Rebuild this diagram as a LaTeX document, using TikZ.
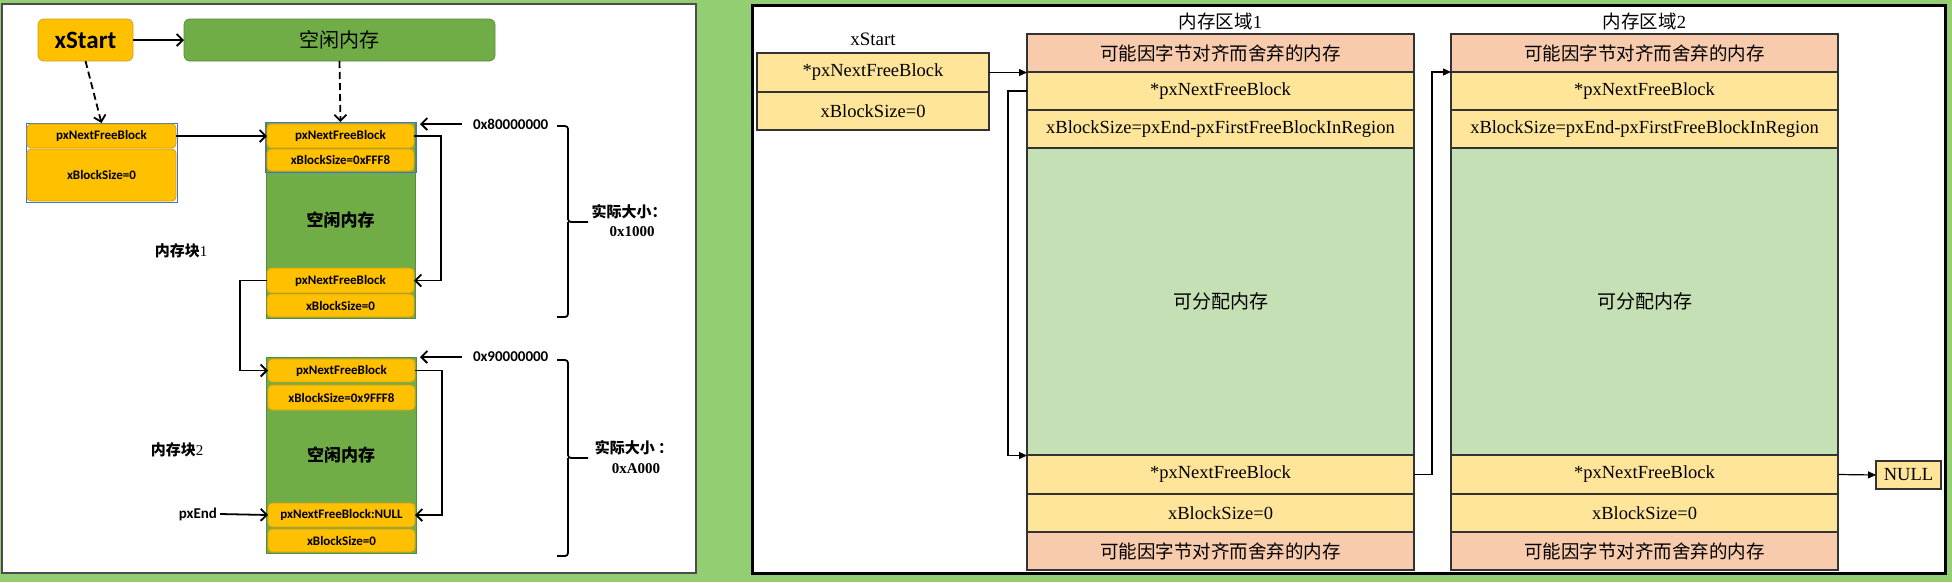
\documentclass[tikz,border=0pt]{standalone}
\usepackage{fontspec}
\setmainfont{Liberation Serif}
\newfontfamily\calfont{Carlito}
\newfontfamily\cjk{Noto Sans CJK SC}
\usetikzlibrary{arrows.meta}
\definecolor{bggreen}{RGB}{148,206,114}
\definecolor{orng}{RGB}{255,192,0}
\definecolor{orngd}{RGB}{214,160,20}
\definecolor{grn}{RGB}{112,173,71}
\definecolor{grnd}{RGB}{88,140,60}
\definecolor{blu}{RGB}{68,114,196}
\definecolor{pinkc}{RGB}{248,203,173}
\definecolor{lyel}{RGB}{255,229,153}
\definecolor{lgrn}{RGB}{197,224,180}
\tikzset{
  lcell/.style={draw=orngd, fill=orng, rounded corners=4pt, line width=0.8pt, inner sep=0pt, outer sep=0pt,
    font=\calfont\bfseries\fontsize{13}{13}\selectfont},
  lcol/.style={draw=grnd, fill=grn, line width=0.8pt, inner sep=0pt, outer sep=0pt,
    font=\cjk\bfseries\fontsize{17}{17}\selectfont},
  rcell/.style={draw=black!80, fill=lyel, line width=1.8pt, inner sep=0pt, outer sep=0pt,
    minimum width=387pt, minimum height=38pt, font=\fontsize{18.5}{18.5}\selectfont},
  lbl/.style={inner sep=0pt, outer sep=0pt},
  barb/.style={-{Straight Barb[length=6pt,width=12pt]}, line width=1.8pt},
  dbarb/.style={barb, dash pattern=on 7pt off 4pt},
  tri/.style={-{Triangle[length=8pt,width=7pt]}, line width=1.2pt},
  bracec/.style={line width=1.8pt, rounded corners=3pt},
}
\begin{document}
\begin{tikzpicture}[x=1pt,y=-1pt]
% background
\fill[bggreen] (0,0) rectangle (1952,582);
\useasboundingbox (0,0) rectangle (1952,582);
% ================= LEFT PANEL =================
\draw[fill=white, draw=black!70, line width=2pt] (2,4) rectangle (696,573);

\node[lcell, rounded corners=6pt, minimum width=95pt, minimum height=42pt,
  font=\calfont\bfseries\fontsize{25}{25}\selectfont] (xs) at (85.5,40) {xStart};
\node[lcol, rounded corners=6pt, minimum width=311pt, minimum height=42pt,
  font=\cjk\fontsize{20}{20}\selectfont] (free) at (339.5,40) {空闲内存};
\draw[barb] (xs.east) -- (free.west);

% struct
\node[draw=blu, line width=1pt, minimum width=151pt, minimum height=79pt, inner sep=0pt, outer sep=0pt] (s) at (101.5,162.5) {};
\node[lcell, minimum width=149pt, minimum height=24pt] (s1) at (101.5,136) {pxNextFreeBlock};
\node[lcell, minimum width=149pt, minimum height=52pt] (s2) at (101.5,175) {xBlockSize=0};
\draw[dbarb] (xs.south) -- (s.north);

% block 1
\node[lcol, minimum width=149pt, minimum height=196pt] (b1) at (340.5,220) {空闲内存};
\draw[blu, line width=1pt] (265,122) rectangle (416,172);
\node[lcell, minimum width=147pt, minimum height=24pt] (b1a) at (340.5,136) {pxNextFreeBlock};
\node[lcell, minimum width=147pt, minimum height=22pt] (b1b) at (340.5,160) {xBlockSize=0xFFF8};
\node[lcell, minimum width=147pt, minimum height=25pt] (b1c) at (340.5,280.5) {pxNextFreeBlock};
\node[lcell, minimum width=147pt, minimum height=23pt] (b1d) at (340.5,305.5) {xBlockSize=0};
\draw[dbarb] (free.south) -- (b1.north);
\draw[barb] (s1.east) -- (b1a.west);
\draw[barb] (b1a.east) -- ++(27,0) |- (b1c.east);

% block 2
\node[lcol, minimum width=150pt, minimum height=196pt] (b2) at (341,455) {空闲内存};
\node[lcell, minimum width=147pt, minimum height=23pt] (b2a) at (341.5,370.5) {pxNextFreeBlock};
\node[lcell, minimum width=147pt, minimum height=25pt] (b2b) at (341.5,397.5) {xBlockSize=0x9FFF8};
\node[lcell, minimum width=147pt, minimum height=24pt] (b2c) at (341.5,515) {pxNextFreeBlock:NULL};
\node[lcell, minimum width=147pt, minimum height=23pt] (b2d) at (341.5,540.5) {xBlockSize=0};
\draw[barb] (b1c.west) -- ++(-27,0) |- (b2a.west);
\draw[barb] (b2a.east) -- ++(27,0) |- (b2c.east);

% addresses and braces
\node[lbl, anchor=west, font=\calfont\bfseries\fontsize{15}{15}\selectfont] (h1) at (473,124) {0x80000000};
\coordinate (h1t) at (420,124);
\draw[barb] (h1.west) ++(-11,0) -- (h1t);
\node[lbl, anchor=west, font=\calfont\bfseries\fontsize{15}{15}\selectfont] (h2) at (473,357) {0x90000000};
\coordinate (h2t) at (420,357);
\draw[barb] (h2.west) ++(-11,0) -- (h2t);
\draw[bracec] (557,126) -| (568,222) -- (588,222);
\draw[bracec] (568,222) |- (557,317);
\draw[bracec] (557,360) -| (568,458) -- (588,458);
\draw[bracec] (568,458) |- (557,556);

\node[lbl, font=\cjk\bfseries\fontsize{15}{15}\selectfont] (sz1) at (629,212) {实际大小：};
\node[lbl, font=\bfseries\fontsize{15}{15}\selectfont] (v1) at (632,232) {0x1000};
\node[lbl, font=\cjk\bfseries\fontsize{15}{15}\selectfont] (sz2) at (634,448) {实际大小 ：};
\node[lbl, font=\bfseries\fontsize{15}{15}\selectfont] (v2) at (636,469) {0xA000};
\node[lbl, font=\fontsize{15}{15}\selectfont] (m1) at (181,251) {{\cjk\bfseries 内存块}1};
\node[lbl, font=\fontsize{15}{15}\selectfont] (m2) at (177,450) {{\cjk\bfseries 内存块}2};
\node[lbl, anchor=east, font=\calfont\bfseries\fontsize{15}{15}\selectfont] (pe) at (217,514) {pxEnd};
\draw[barb] (pe.east) ++(3,0) -- (b2c.west);

% ================= RIGHT PANEL =================
\draw[fill=white, draw=black, line width=3pt] (752,5) rectangle (1945,573);
\node[lbl, font=\fontsize{19}{19}\selectfont] (xsl) at (873,39) {xStart};
\node[rcell, minimum width=232pt, minimum height=39pt] (xs1) at (873,72.5) {*pxNextFreeBlock};
\node[rcell, minimum width=232pt, minimum height=38pt] (xs2) at (873,111) {xBlockSize=0};

\foreach \i/\cx in {1/1220.5, 2/1644.5} {
  \node[lbl, font=\fontsize{18.5}{18.5}\selectfont] (t\i) at (\cx,21) {{\cjk 内存区域}\i};
  \node[rcell, fill=pinkc] (r\i-p) at (\cx,53) {\cjk 可能因字节对齐而舍弃的内存};
  \node[rcell] (r\i-n) at (\cx,91) {*pxNextFreeBlock};
  \node[rcell] (r\i-s) at (\cx,129) {xBlockSize=pxEnd-pxFirstFreeBlockInRegion};
  \node[rcell, fill=lgrn, minimum height=307pt] (r\i-g) at (\cx,301.5) {\cjk\fontsize{19}{19}\selectfont 可分配内存};
  \node[rcell] (r\i-n2) at (\cx,474.5) {*pxNextFreeBlock};
  \node[rcell] (r\i-s2) at (\cx,513) {xBlockSize=0};
  \node[rcell, fill=pinkc] (r\i-p2) at (\cx,551) {\cjk 可能因字节对齐而舍弃的内存};
}
\node[rcell, minimum width=65pt, minimum height=28pt] (null) at (1908.5,475) {NULL};

\draw[tri] (xs1.east) -- (xs1.east -| r1-n.west);
\draw[tri] (r1-n.west) -- ++(-19,0) |- (r1-n2.north west);
\draw[tri] (r1-n2.east) -- ++(18,0) |- (r2-n.north west);
\draw[tri] (r2-n2.east) -- (null.west);
\end{tikzpicture}
\end{document}
